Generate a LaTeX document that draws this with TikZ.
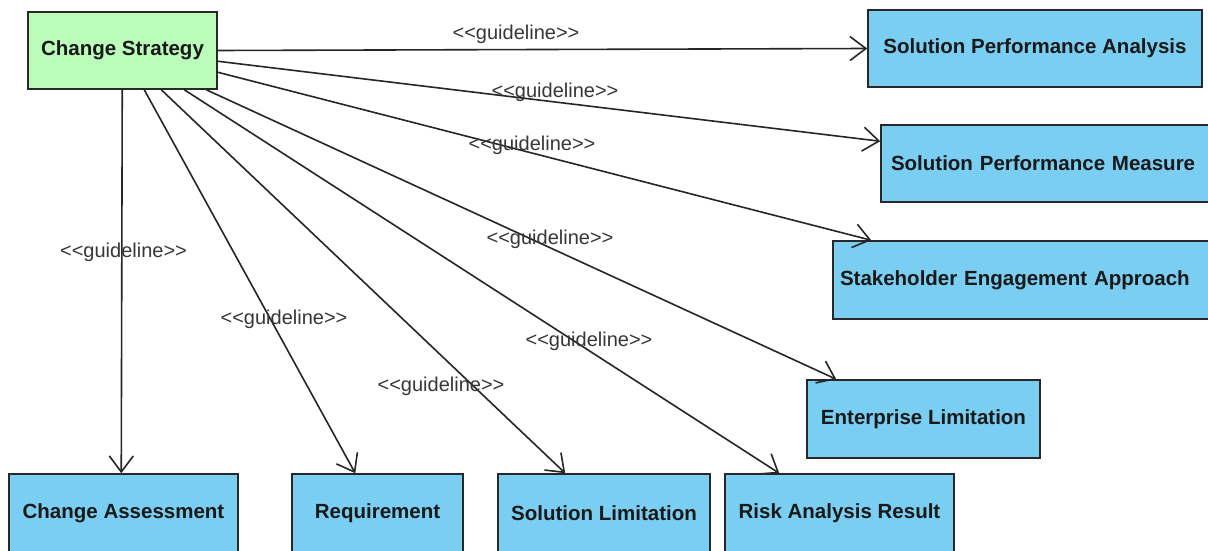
\documentclass[tikz,border=0pt]{standalone}
\usepackage{fontspec}
\setmainfont{Liberation Sans}
\usetikzlibrary{arrows.meta}

\definecolor{greenfill}{RGB}{187,252,187}
\definecolor{bluefill}{RGB}{122,206,242}
\definecolor{edgegray}{RGB}{40,40,40}
\definecolor{labelgray}{RGB}{55,55,55}

\tikzset{
  classbox/.style={draw=edgegray, line width=1.5pt, inner sep=0pt,
    font=\fontsize{20.5}{24}\selectfont\bfseries, text=black!90},
  strategybox/.style={classbox, fill=greenfill},
  itembox/.style={classbox, fill=bluefill},
  guide/.style={draw=black!85, line width=1.6pt,
    -{Straight Barb[length=16pt,width=24pt,line width=1.6pt]}},
  guidelabel/.style={font=\fontsize{20}{24}\selectfont, text=labelgray, inner sep=0pt}
}

\begin{document}
\begin{tikzpicture}[x=1pt,y=-1pt]
\useasboundingbox[fill=white] (0,0) rectangle (1208,551);

% source class
\node[strategybox, minimum width=189pt, minimum height=77pt] (cs) at (122.5,50.5) {Change Strategy};

% targets on the right
\node[itembox, minimum width=334pt, minimum height=77pt] (spa) at (1035,48.5) {Solution Performance Analysis};
\node[itembox, minimum height=77pt, text width=320pt, inner xsep=10pt, align=left] (spm) at (1051,163.5) {Solution Performance Measure};
\node[itembox, minimum height=78pt, text width=365pt, inner xsep=7pt, align=left] (sea) at (1022.5,280) {Stakeholder Engagement Approach};
\node[itembox, minimum width=233pt, minimum height=78pt] (ent) at (923.5,419) {Enterprise Limitation};

% targets along the bottom
\node[itembox, minimum width=229pt, minimum height=78pt] (ca) at (123.5,513) {Change Assessment};
\node[itembox, minimum width=171pt, minimum height=78pt] (req) at (377.5,513) {Requirement};
\node[itembox, minimum width=212pt, minimum height=78pt] (sl) at (604,513) {Solution Limitation};
\node[itembox, minimum width=229pt, minimum height=78pt] (risk) at (839.5,513) {Risk Analysis Result};

% guideline dependencies
\draw[guide] (cs.east) -- (spa.west);
\draw[guide] ([yshift=-50pt]cs.north east) -- ([yshift=-17pt]spm.north west);
\draw[guide] ([yshift=-61pt]cs.north east) -- ([xshift=39pt]sea.north west);
\draw[guide] ([xshift=179pt]cs.south west) -- ([xshift=30pt]ent.north west);
\draw[guide] ([xshift=157pt]cs.south west) -- ([xshift=55pt]risk.north west);
\draw[guide] ([xshift=134pt]cs.south west) -- ([xshift=68pt]sl.north west);
\draw[guide] ([xshift=117pt]cs.south west) -- ([xshift=64pt]req.north west);
\draw[guide] ([xshift=95pt]cs.south west) -- ([xshift=113pt]ca.north west);

% stereotype labels
\node[guidelabel] (lspa) at (516,34) {<{}<guideline>{}>};
\node[guidelabel] (lspm) at (555,92) {<{}<guideline>{}>};
\node[guidelabel] (lsea) at (532,145) {<{}<guideline>{}>};
\node[guidelabel] (lent) at (550,239) {<{}<guideline>{}>};
\node[guidelabel] (lrisk) at (589,341) {<{}<guideline>{}>};
\node[guidelabel] (lsl) at (441,386) {<{}<guideline>{}>};
\node[guidelabel] (lreq) at (284,319) {<{}<guideline>{}>};
\node[guidelabel] (lca) at (123.5,252) {<{}<guideline>{}>};
\end{tikzpicture}
\end{document}
